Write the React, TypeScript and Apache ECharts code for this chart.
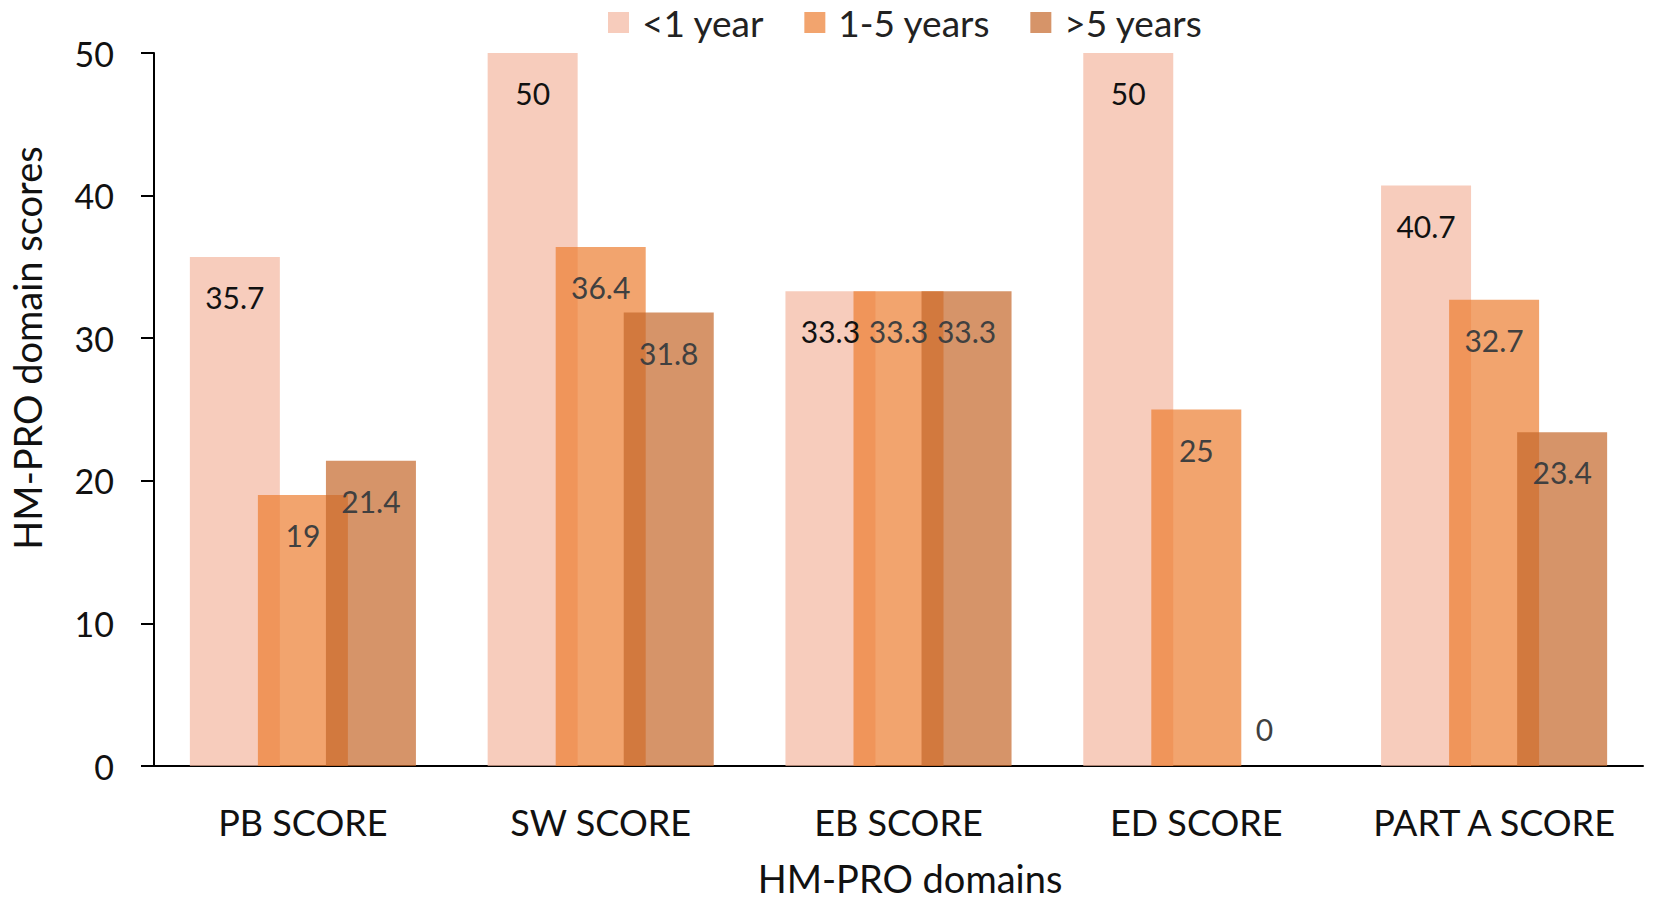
import React, { useEffect, useRef } from "react";
import * as echarts from "echarts";

const categories = ["PB SCORE", "SW SCORE", "EB SCORE", "ED SCORE", "PART A SCORE"];
const seriesNames = ["<1 year", "1-5 years", ">5 years"];
const lessThanOne = [35.7, 50, 33.3, 50, 40.7];
const oneToFive = [19, 36.4, 33.3, 25, 32.7];
const moreThanFive = [21.4, 31.8, 33.3, 0, 23.4];
const yTicks = { min: 0, max: 50, interval: 10 };
const xTitle = "HM-PRO domains";
const yTitle = "HM-PRO domain scores";

const colors = ["rgba(244,182,159,0.7)", "rgba(237,125,49,0.7)", "rgba(196,102,42,0.7)"];
const labelColors = ["#111111", "#404040", "#404040"];
const FONT = "Lato, 'Noto Sans', sans-serif";

export default function App() {
  const ref = useRef<HTMLDivElement>(null);
  useEffect(() => {
    document.body.style.margin = "0";
    if (!ref.current) return;
    const chart = echarts.init(ref.current, undefined, { renderer: "svg" });
    const allData = [lessThanOne, oneToFive, moreThanFive];
    const series = allData.map((vals, i) => ({
      name: seriesNames[i],
      type: "bar",
      barWidth: 90,
      barGap: "-24.4%",
      itemStyle: { color: colors[i] },
      label: {
        show: true,
        position: "insideTop",
        distance: 25,
        fontFamily: FONT,
        fontSize: 30,
        color: labelColors[i],
      },
      data: vals.map((v) =>
        v === 0
          ? { value: v, label: { position: "top", distance: 22 } }
          : { value: v }
      ),
    }));
    chart.setOption({
      animation: false,
      backgroundColor: "#ffffff",
      textStyle: { fontFamily: FONT },
      legend: {
        top: -1,
        left: 603,
        itemWidth: 21,
        itemHeight: 21,
        itemGap: 40,
        icon: "rect",
        textStyle: { fontFamily: FONT, fontSize: 37, color: "#222222", padding: [0, 0, 0, 8] },
        data: seriesNames,
      },
      grid: { left: 154, right: 11, top: 53, bottom: 136, containLabel: false },
      xAxis: {
        type: "category",
        data: categories,
        axisLine: { show: true, lineStyle: { color: "#000", width: 2 } },
        axisTick: { show: false },
        axisLabel: { interval: 0, fontFamily: FONT, fontSize: 36, color: "#111", margin: 38 },
      },
      yAxis: {
        type: "value",
        min: yTicks.min,
        max: yTicks.max,
        interval: yTicks.interval,
        axisLine: { show: true, lineStyle: { color: "#000", width: 2 } },
        axisTick: { show: true, length: 13, lineStyle: { color: "#000", width: 2 } },
        splitLine: { show: false },
        axisLabel: { fontFamily: FONT, fontSize: 34, color: "#111", margin: 40 },
      },
      graphic: [
        {
          type: "text",
          x: 910,
          y: 878,
          style: {
            text: xTitle,
            fontFamily: FONT,
            fontSize: 38,
            fill: "#111",
            align: "center",
            verticalAlign: "middle",
          },
        },
        {
          type: "text",
          x: 27,
          y: 348,
          rotation: Math.PI / 2,
          style: {
            text: yTitle,
            fontFamily: FONT,
            fontSize: 38,
            fill: "#111",
            align: "center",
            verticalAlign: "middle",
          },
        },
      ],
      series,
    });
    return () => chart.dispose();
  }, []);
  return <div ref={ref} style={{ width: 1654, height: 902 }} />;
}
